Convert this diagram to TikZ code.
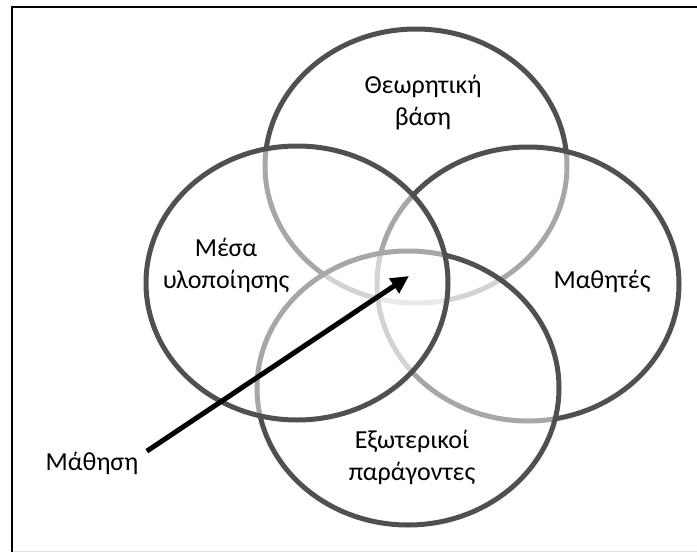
\documentclass[tikz,border=0pt]{standalone}
\usepackage{fontspec}
\setmainfont{Carlito}
\usetikzlibrary{shapes.geometric}
\usetikzlibrary{arrows.meta}
\usetikzlibrary{positioning}
\definecolor{ringgray}{RGB}{80,80,80}

\begin{document}
\begin{tikzpicture}[x=1pt, y=-1pt,
    venn/.style={ellipse, draw=ringgray, line width=5pt, fill=white, fill opacity=0.5,
        minimum width=302pt, minimum height=274pt, inner sep=0pt},
    lbl/.style={font=\fontsize{26}{32}\selectfont, align=center, anchor=base},
    learnarrow/.style={line width=5pt, -{Triangle[length=18pt,width=17pt]}}]
    \useasboundingbox (0,0) rectangle (697,552);

    % Frame
    \draw[black!12, line width=1pt] (12,551) -- (697,551);
    \draw[line width=1.6pt] (12,552) |- (697,7);

    % Circles (drawing order gives the shading)
    \node[venn] (theory) at (416,166) {};
    \node[venn] (students) at (528,284) {};
    \node[venn] (external) at (408,388) {};
    \node[venn] (media) at (297,283) {};

    % Labels (anchored at the last baseline)
    \node[lbl] (theorylbl) at (423,125) {Θεωρητική\\βάση};
    \node[lbl] (medialbl) at (226,288) {Μέσα\\υλοποίησης};
    \node[lbl] (studentslbl) at (602,288) {Μαθητές};
    \node[lbl] (externallbl) at (412,480) {Εξωτερικοί\\παράγοντες};

    % Learning arrow
    \node[lbl] (learning) at (92,470) {Μάθηση};
    \coordinate (tail) at ([shift={(5,3)}]learning.north east);
    \coordinate (core) at (409,276);
    \draw[learnarrow] (tail) -- (core);
\end{tikzpicture}
\end{document}
